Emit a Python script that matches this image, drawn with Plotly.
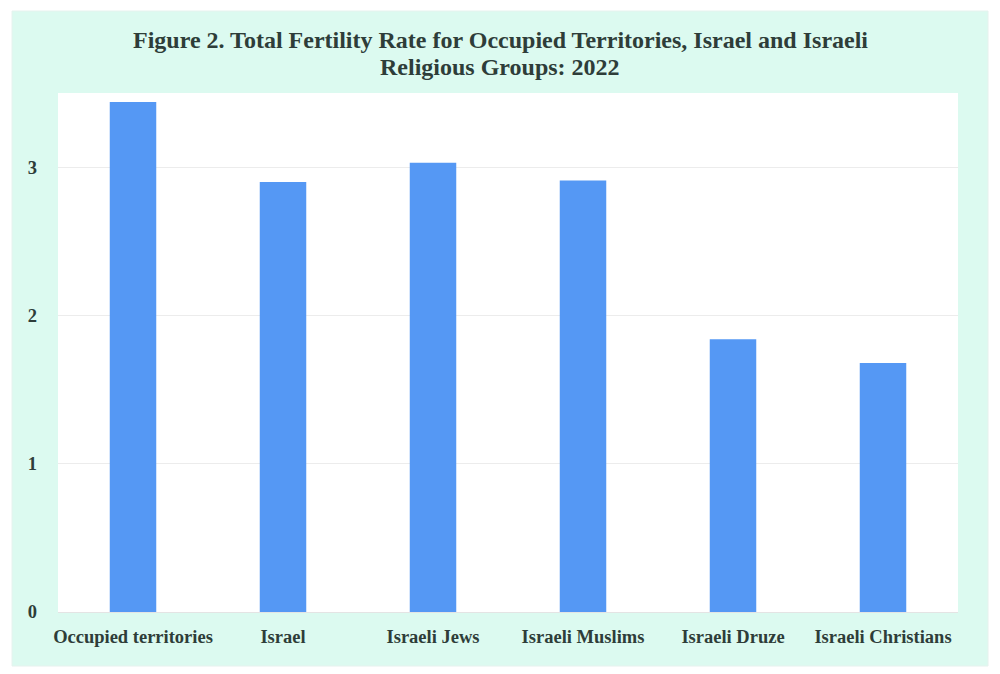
import plotly.graph_objects as go

categories = ["Occupied territories", "Israel", "Israeli Jews", "Israeli Muslims",
              "Israeli Druze", "Israeli Christians"]
values = [3.44, 2.90, 3.03, 2.91, 1.84, 1.68]
y_ticks = [0, 1, 2, 3]
title_lines = ["Figure 2. Total Fertility Rate for Occupied Territories, Israel and Israeli",
               "Religious Groups: 2022"]

L, R, T, B = 58, 42, 93, 62
W, H = 1000, 674
pw, ph = W - L - R, H - T - B

def px(x):
    return (x - L) / pw

def py(y):
    return (H - B - y) / ph

TXT = "#2e3d39"

fig = go.Figure(go.Bar(
    x=categories, y=values, width=0.31,
    marker=dict(color="#5598f4", line=dict(width=0)),
))

annotations = [
    dict(text=t, xref="paper", yref="paper", x=px(500), y=py(yc),
         xanchor="center", yanchor="middle", showarrow=False,
         font=dict(family="Liberation Serif", size=24, color=TXT, weight="bold"))
    for t, yc in zip(title_lines, [40, 67])
]

fig.update_layout(
    width=W, height=H,
    margin=dict(l=L, r=R, t=T, b=B),
    paper_bgcolor="white",
    plot_bgcolor="white",
    showlegend=False,
    annotations=annotations,
    font=dict(family="Liberation Serif", size=15, color=TXT),
    xaxis=dict(
        showgrid=False, showline=False, zeroline=False,
        tickfont=dict(family="Liberation Serif", size=18.5, color=TXT, weight="bold"),
        ticks="", ticklabelstandoff=11,
    ),
    yaxis=dict(
        range=[0, 3.5], tickvals=y_ticks, showgrid=True, gridcolor="#ececec", gridwidth=1,
        zeroline=True, zerolinecolor="#e4e4e4", zerolinewidth=1, showline=False,
        tickfont=dict(family="Liberation Serif", size=18.5, color=TXT, weight="bold"),
        ticks="", ticklabelstandoff=20,
    ),
    shapes=[
        dict(type="rect", xref="paper", yref="paper", layer="below",
             x0=px(12), x1=px(988), y0=py(666), y1=py(11),
             fillcolor="#dcfaf0", line=dict(color="#e6f2ee", width=1)),
        dict(type="rect", xref="paper", yref="paper", layer="below",
             x0=0, x1=1, y0=0, y1=1, fillcolor="white", line=dict(width=0)),
    ],
)

fig.write_html("out.html")
